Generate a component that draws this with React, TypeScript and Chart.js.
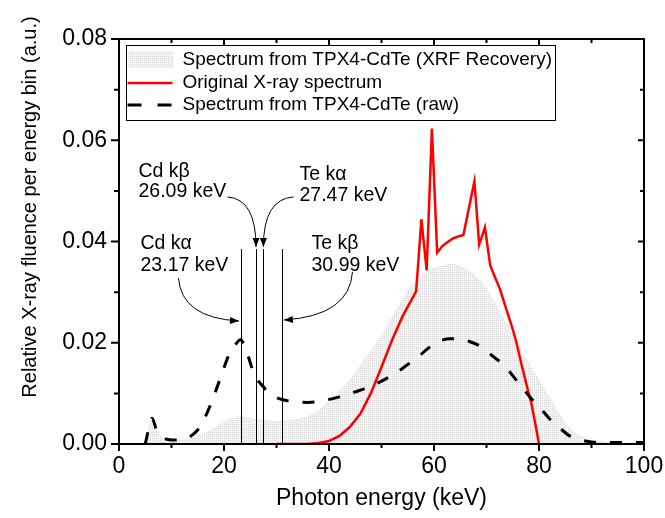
import React, { useEffect, useRef } from "react";
import { Chart, registerables } from "chart.js";
Chart.register(...registerables);

// ---------- data ----------
const xrfE = [4.5, 5.5, 6.3, 7.2, 8.5, 10, 12, 14, 16, 18, 20, 22, 23, 25, 27, 30, 33, 36, 38, 40, 42, 44.5, 47, 50.8, 53, 55.8, 57.5, 59.6, 61.5, 63.5, 66, 68.5, 70.5, 72.3, 74, 76.1, 78, 79.9, 82, 83.7, 85.5, 87.5, 89.5, 91.3, 95, 100];
const xrfV = [0, 0.0025, 0.0047, 0.0026, 0.0012, 0.0008, 0.0008, 0.0012, 0.002, 0.003, 0.0044, 0.0052, 0.0054, 0.005, 0.0048, 0.0045, 0.0047, 0.0054, 0.0066, 0.0085, 0.0105, 0.0133, 0.017, 0.0226, 0.0268, 0.0312, 0.033, 0.0345, 0.0352, 0.0355, 0.0345, 0.0325, 0.0298, 0.0265, 0.0232, 0.0193, 0.016, 0.0127, 0.0092, 0.0061, 0.0035, 0.0018, 0.0008, 0.0005, 0.0002, 0.0001];

const origE = [30, 36, 38, 40, 42, 44, 46, 48, 50, 52, 54, 56, 56.6, 57.6, 58.6, 59.6, 60.6, 61.6, 62.6, 63.6, 64.6, 65.6, 67.7, 68.6, 69.7, 70.7, 71.6, 72.6, 73.6, 74.6, 75.6, 76.6, 77.6, 78.6, 79.4, 80];
const origV = [0, 0, 0.0002, 0.0006, 0.0016, 0.0034, 0.006, 0.0101, 0.0152, 0.0205, 0.0252, 0.029, 0.0302, 0.0444, 0.0343, 0.0623, 0.0378, 0.0391, 0.0399, 0.0406, 0.041, 0.0413, 0.0519, 0.0394, 0.0428, 0.0353, 0.033, 0.0305, 0.0272, 0.024, 0.0205, 0.016, 0.0118, 0.0078, 0.0034, 0];

const rawE = [5, 6.3, 7.2, 8.5, 10, 12, 14, 15.5, 17.3, 19.2, 21.1, 22.3, 23.1, 24, 25.5, 26.3, 27.5, 28.5, 29.5, 31, 33, 36, 39, 42, 45, 48.6, 52.7, 55, 57.1, 59, 61, 63, 64.5, 66.6, 69, 71, 73.6, 75, 76.7, 78.5, 80, 82, 83.7, 86, 88, 90, 94, 100];
const rawV = [0, 0.0051, 0.0026, 0.0012, 0.0008, 0.0008, 0.0018, 0.0035, 0.0074, 0.0127, 0.018, 0.0198, 0.0206, 0.0192, 0.0145, 0.0128, 0.0113, 0.0101, 0.0094, 0.0088, 0.0084, 0.0082, 0.0086, 0.0093, 0.0103, 0.0117, 0.014, 0.0157, 0.0173, 0.019, 0.0203, 0.0208, 0.0207, 0.0203, 0.0192, 0.0175, 0.0153, 0.0135, 0.0113, 0.009, 0.0074, 0.005, 0.0034, 0.0015, 0.0008, 0.0004, 0.0003, 0.0003];

const xTicks = [0, 20, 40, 60, 80, 100];
const xMinor = [10, 30, 50, 70, 90];
const yTicks = [0, 0.02, 0.04, 0.06, 0.08];
const yMinor = [0.01, 0.03, 0.05, 0.07];

const lineEnergies = [23.17, 26.09, 27.47, 30.99];
const lineTop = 0.0385;

const legendLabels = [
  "Spectrum from TPX4-CdTe (XRF Recovery)",
  "Original X-ray spectrum",
  "Spectrum from TPX4-CdTe (raw)",
];
const xTitle = "Photon energy (keV)";
const yTitle = "Relative X-ray fluence per energy bin (a.u.)";

const annoTexts = [
  ["Cd k\u03B2", "26.09 keV"],
  ["Te k\u03B1", "27.47 keV"],
  ["Cd k\u03B1", "23.17 keV"],
  ["Te k\u03B2", "30.99 keV"],
];

// layout of annotations (data units)
const annoPos = [
  { x: 3.71, y1: 0.0539, y2: 0.0498 },
  { x: 34.38, y1: 0.0533, y2: 0.049 },
  { x: 4.1, y1: 0.0395, y2: 0.0352 },
  { x: 36.67, y1: 0.0395, y2: 0.0352 },
];
const arrowPos = [
  { s: [20.67, 0.0488], c: [26.1, 0.0484], e: [26.1, 0.0389] },
  { s: [33.24, 0.0488], c: [27.5, 0.0484], e: [27.5, 0.0389] },
  { s: [11.33, 0.0328], c: [11.9, 0.0249], e: [22.86, 0.0243] },
  { s: [44.48, 0.034], c: [43.9, 0.0253], e: [31.4, 0.0245] },
];

const FONT = "'Liberation Sans', Arial, sans-serif";

function pts(xs: number[], ys: number[]) {
  return xs.map((x, i) => ({ x, y: ys[i] }));
}

function makePattern(ctx: CanvasRenderingContext2D) {
  const pc = document.createElement("canvas");
  pc.width = 2;
  pc.height = 2;
  const p = pc.getContext("2d")!;
  p.fillStyle = "#fcfcfc";
  p.fillRect(0, 0, 2, 2);
  p.fillStyle = "#dedede";
  p.fillRect(0, 0, 1, 1);
  p.fillStyle = "#efefef";
  p.fillRect(1, 0, 1, 1);
  p.fillRect(0, 1, 1, 1);
  return ctx.createPattern(pc, "repeat")!;
}

function drawArrow(ctx: CanvasRenderingContext2D, sx: number, sy: number, cx: number, cy: number, ex: number, ey: number) {
  ctx.beginPath();
  ctx.moveTo(sx, sy);
  ctx.quadraticCurveTo(cx, cy, ex, ey);
  ctx.stroke();
  const ang = Math.atan2(ey - cy, ex - cx);
  const L = 9, W = 3.5;
  ctx.beginPath();
  ctx.moveTo(ex, ey);
  ctx.lineTo(ex - L * Math.cos(ang) + W * Math.sin(ang), ey - L * Math.sin(ang) - W * Math.cos(ang));
  ctx.lineTo(ex - L * Math.cos(ang) - W * Math.sin(ang), ey - L * Math.sin(ang) + W * Math.cos(ang));
  ctx.closePath();
  ctx.fill();
}

export default function App() {
  const ref = useRef<HTMLCanvasElement>(null);
  useEffect(() => {
    const canvas = ref.current!;
    const ctx0 = canvas.getContext("2d")!;
    const pattern = makePattern(ctx0);

    const decor = {
      id: "decor",
      afterDatasetsDraw(chart: any) {
        const { ctx, chartArea: a, scales } = chart;
        const x = scales.x, y = scales.y;
        const X = (v: number) => x.getPixelForValue(v);
        const Y = (v: number) => y.getPixelForValue(v);
        ctx.save();
        // vertical emission lines
        ctx.strokeStyle = "#000";
        ctx.lineWidth = 1;
        lineEnergies.forEach((e) => {
          const px = Math.round(X(e)) + 0.5;
          ctx.beginPath();
          ctx.moveTo(px, Y(0));
          ctx.lineTo(px, Y(lineTop));
          ctx.stroke();
        });
        // arrows
        ctx.fillStyle = "#000";
        ctx.lineWidth = 1;
        arrowPos.forEach((p) => {
          drawArrow(ctx, X(p.s[0]), Y(p.s[1]), X(p.c[0]), Y(p.c[1]), X(p.e[0]), Y(p.e[1]));
        });
        // annotation text
        ctx.font = `19.5px ${FONT}`;
        ctx.textAlign = "left";
        ctx.textBaseline = "middle";
        annoTexts.forEach((t, i) => {
          const p = annoPos[i];
          ctx.fillText(t[0], X(p.x), Y(p.y1));
          ctx.fillText(t[1], X(p.x), Y(p.y2));
        });
        // frame
        ctx.lineWidth = 2;
        ctx.strokeStyle = "#000";
        ctx.strokeRect(a.left, a.top, a.right - a.left, a.bottom - a.top);
        // ticks
        ctx.lineWidth = 2;
        ctx.beginPath();
        xTicks.forEach((v) => {
          const px = X(v);
          ctx.moveTo(px, a.bottom); ctx.lineTo(px, a.bottom + 7);
          ctx.moveTo(px, a.top); ctx.lineTo(px, a.top + 6);
        });
        xMinor.forEach((v) => {
          const px = X(v);
          ctx.moveTo(px, a.bottom); ctx.lineTo(px, a.bottom + 4);
          ctx.moveTo(px, a.top); ctx.lineTo(px, a.top + 4);
        });
        yTicks.forEach((v) => {
          const py = Y(v);
          ctx.moveTo(a.left, py); ctx.lineTo(a.left - 8, py);
          ctx.moveTo(a.right, py); ctx.lineTo(a.right - 6, py);
        });
        yMinor.forEach((v) => {
          const py = Y(v);
          ctx.moveTo(a.left, py); ctx.lineTo(a.left - 5, py);
          ctx.moveTo(a.right, py); ctx.lineTo(a.right - 4, py);
        });
        ctx.stroke();

        // legend
        const lx = a.left + 7.5, ly = a.top + 6.5, lw = 429, lh = 75;
        ctx.fillStyle = "#fff";
        ctx.fillRect(lx, ly, lw, lh);
        ctx.lineWidth = 1;
        ctx.strokeStyle = "#000";
        ctx.strokeRect(lx, ly, lw, lh);
        const rows = [ly + 14.5, ly + 37.5, ly + 59.5];
        ctx.fillStyle = pattern;
        ctx.fillRect(lx + 2, rows[0] - 9, 45, 17);
        ctx.strokeStyle = "#ff0000";
        ctx.lineWidth = 2.5;
        ctx.beginPath();
        ctx.moveTo(lx + 1, rows[1]); ctx.lineTo(lx + 46, rows[1]);
        ctx.stroke();
        ctx.strokeStyle = "#000";
        ctx.lineWidth = 3;
        ctx.beginPath();
        ctx.moveTo(lx + 1, rows[2]); ctx.lineTo(lx + 15, rows[2]);
        ctx.moveTo(lx + 31, rows[2]); ctx.lineTo(lx + 45, rows[2]);
        ctx.stroke();
        ctx.fillStyle = "#000";
        ctx.font = `19px ${FONT}`;
        ctx.textBaseline = "middle";
        ctx.textAlign = "left";
        legendLabels.forEach((l, i) => ctx.fillText(l, lx + 56, rows[i]));

        // axis titles
        ctx.font = `23px ${FONT}`;
        ctx.textAlign = "center";
        ctx.textBaseline = "middle";
        ctx.fillText(xTitle, (a.left + a.right) / 2, 499);
        ctx.save();
        ctx.translate(30, 207);
        ctx.rotate(-Math.PI / 2);
        ctx.font = `20px ${FONT}`;
        ctx.fillText(yTitle, 0, 0);
        ctx.restore();
        ctx.restore();
      },
    };

    const chart = new Chart(canvas, {
      type: "line",
      data: {
        datasets: [
          {
            label: legendLabels[0],
            data: pts(xrfE, xrfV),
            borderColor: "#d0d0d0",
            borderWidth: 1,
            borderDash: [1, 2],
            backgroundColor: pattern,
            fill: "origin",
            pointRadius: 0,
            cubicInterpolationMode: "monotone",
            order: 3,
          },
          {
            label: legendLabels[1],
            data: pts(origE, origV),
            borderColor: "#ff0000",
            borderWidth: 2.5,
            fill: false,
            pointRadius: 0,
            tension: 0,
            order: 2,
          },
          {
            label: legendLabels[2],
            data: pts(rawE, rawV),
            borderColor: "#000",
            borderWidth: 3,
            borderDash: [12, 14],
            fill: false,
            pointRadius: 0,
            cubicInterpolationMode: "monotone",
            order: 1,
          },
        ],
      },
      options: {
        responsive: false,
        animation: false,
        devicePixelRatio: 1,
        layout: { padding: { top: 39, right: 21, left: 0, bottom: 0 } },
        plugins: { legend: { display: false }, tooltip: { enabled: false } },
        scales: {
          x: {
            type: "linear",
            min: 0,
            max: 100,
            afterBuildTicks: (s: any) => { s.ticks = xTicks.map((v) => ({ value: v })); },
            afterFit: (s: any) => { s.height = 74; s.paddingLeft = 0; s.paddingRight = 0; },
            grid: { display: false, drawTicks: false },
            border: { display: false },
            ticks: { color: "#000", font: { family: FONT, size: 23 }, padding: 9, maxRotation: 0, autoSkip: false, callback: (v: any) => String(v) },
          },
          y: {
            type: "linear",
            min: 0,
            max: 0.08,
            afterBuildTicks: (s: any) => { s.ticks = yTicks.map((v) => ({ value: v })); },
            afterFit: (s: any) => { s.width = 119; s.paddingTop = 0; s.paddingBottom = 0; },
            grid: { display: false, drawTicks: false },
            border: { display: false },
            ticks: { color: "#000", font: { family: FONT, size: 23 }, padding: 12, autoSkip: false, callback: (v: any) => Number(v).toFixed(2) },
          },
        },
      },
      plugins: [decor],
    } as any);
    return () => chart.destroy();
  }, []);
  return (
    <div style={{ position: "absolute", left: 0, top: 0, width: 665, height: 518, background: "#fff" }}>
      <canvas ref={ref} width={665} height={518} style={{ width: 665, height: 518, display: "block" }} />
    </div>
  );
}
